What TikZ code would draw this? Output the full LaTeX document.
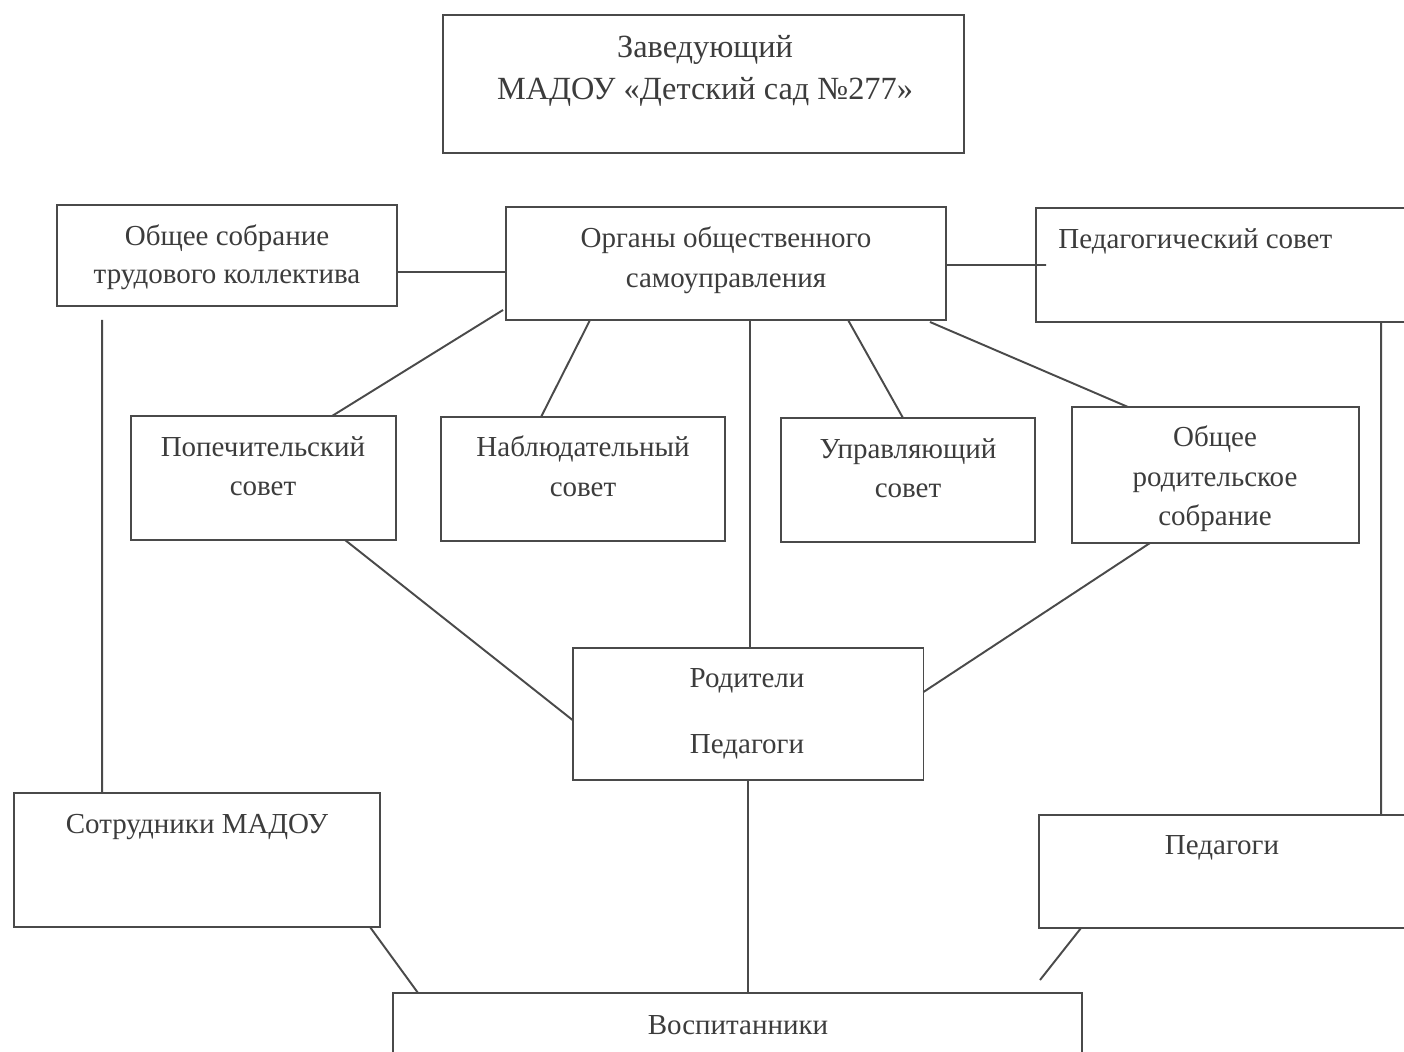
\documentclass[tikz,border=0pt]{standalone}
\usepackage{fontspec}
\setmainfont{Liberation Serif}
\usetikzlibrary{calc}
\definecolor{linegray}{HTML}{4A4A4A}
\definecolor{textgray}{HTML}{3C3C3C}
\tikzset{
  box/.style={draw=linegray, line width=1.1pt, rectangle, inner sep=0pt, outer sep=0pt},
  txt/.style={text=textgray, align=center, inner sep=0pt, font=\fontsize{16.5}{22.5}\selectfont},
  conn/.style={draw=linegray, line width=1.1pt}
}
\begin{document}
\begin{tikzpicture}[x=0.02cm, y=-0.02cm]
\useasboundingbox (0,0) rectangle (1404,1052);
\fill[white] (0,0) rectangle (1404,1052);
\clip (0,0) rectangle (1404,1052);
% boxes
\node[box, minimum width=10.42cm, minimum height=2.76cm] (zav) at (703.5,84) {};
\node[box, minimum width=6.8cm, minimum height=2.02cm] (obsh) at (227,255.5) {};
\node[box, minimum width=8.8cm, minimum height=2.26cm] (org) at (726,263.5) {};
\node[box, minimum width=7.68cm, minimum height=2.28cm] (ped) at (1228,265) {};
\node[box, minimum width=5.3cm, minimum height=2.48cm] (pop) at (263.5,478) {};
\node[box, minimum width=5.68cm, minimum height=2.48cm] (nab) at (583,479) {};
\node[box, minimum width=5.08cm, minimum height=2.48cm] (upr) at (908,480) {};
\node[box, minimum width=5.74cm, minimum height=2.72cm] (rod) at (1215.5,475) {};
\node[box, minimum width=7.02cm, minimum height=2.64cm] (rp) at (748,714) {};
\node[box, minimum width=7.32cm, minimum height=2.68cm] (sotr) at (197,860) {};
\node[box, minimum width=7.62cm, minimum height=2.26cm] (ped2) at (1229.5,871.5) {};
\node[box, minimum width=13.78cm, minimum height=1.74cm] (vos) at (737.5,1036.5) {};
% texts
\node[txt, font=\fontsize{18.4}{23.8}\selectfont] (tzav) at (705,71) {Заведующий\\МАДОУ «Детский сад №277»};
\node[txt, font=\fontsize{16.5}{21.6}\selectfont] (tobsh) at (227,257) {Общее собрание\\трудового коллектива};
\node[txt] (torg) at (726,260) {Органы общественного\\самоуправления};
\node[txt, anchor=west] (tped) at (1058,241) {Педагогический совет};
\node[txt] (tpop) at (263,466) {Попечительский\\совет};
\node[txt] (tnab) at (583,466) {Наблюдательный\\совет};
\node[txt] (tupr) at (908,468) {Управляющий\\совет};
\node[txt] (trod) at (1215,479) {Общее\\родительское\\собрание};
\node[txt] (trp) at (747,714) {Родители\\[15pt]Педагоги};
\node[txt] (tsotr) at (197,827) {Сотрудники МАДОУ};
\node[txt] (tped2) at (1222,848) {Педагоги};
\node[txt] (tvos) at (738,1025) {Воспитанники};
% connectors
\coordinate (pfree) at (1040,980);
\coordinate (orgdown) at ($(org.south west)+(244,0)$);
\draw[conn] ($(obsh.east)+(0,16.5)$) -- ($(org.west)+(0,8.5)$);
\draw[conn] ($(org.east)+(0,1.5)$) -- ($(ped.west)+(10,0)$);
\draw[conn] ($(org.south west)+(-3,-10)$) -- ($(pop.north west)+(201,0)$);
\draw[conn] ($(org.south west)+(84,0)$) -- ($(nab.north west)+(100,0)$);
\draw[conn] (orgdown) -- (orgdown |- rp.north);
\draw[conn] ($(org.south west)+(342,0)$) -- ($(upr.north west)+(122,0)$);
\draw[conn] ($(org.south east)+(-16,2)$) -- ($(rod.north west)+(56,0)$);
\draw[conn] ($(pop.south west)+(214,0)$) -- ($(rp.west)+(0,6)$);
\draw[conn] ($(rod.south west)+(78,0)$) -- ($(rp.east)+(0,-22)$);
\draw[conn] (rp.south) -- (rp.south |- vos.north);
\draw[conn] ($(obsh.south west)+(45,14)$) -- ($(sotr.north west)+(88,0)$);
\draw[conn] ($(ped.south west)+(345,0)$) -- ($(ped2.north west)+(342,0)$);
\draw[conn] ($(sotr.south east)+(-10,0)$) -- ($(vos.north west)+(25,0)$);
\draw[conn] ($(ped2.south west)+(42,0)$) -- (pfree);
\end{tikzpicture}
\end{document}
